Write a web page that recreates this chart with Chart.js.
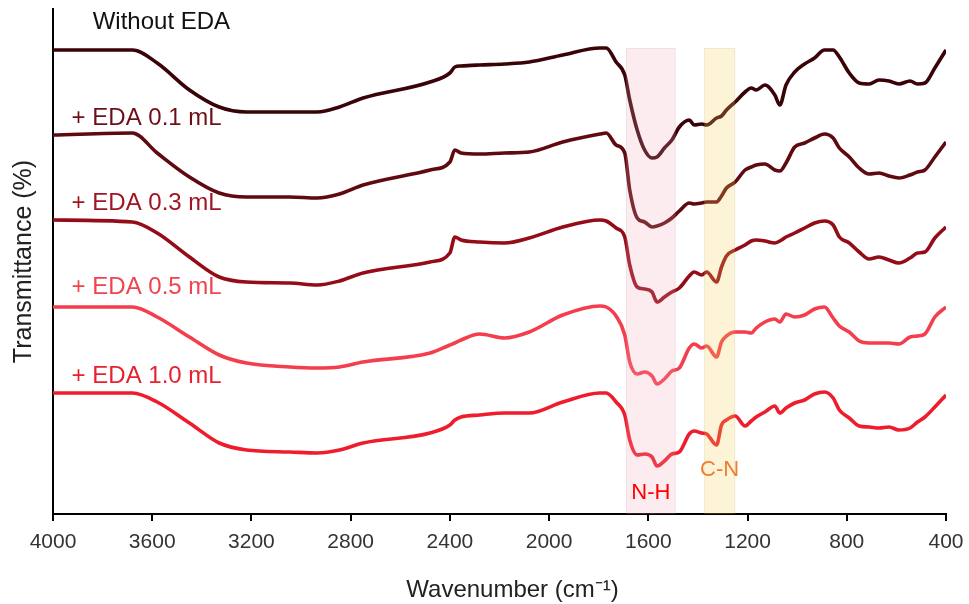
<!DOCTYPE html>
<html>
<head>
<meta charset="utf-8">
<script src="https://cdn.jsdelivr.net/npm/chart.js@4.4.1/dist/chart.umd.min.js"></script>
<style>
  html, body { margin: 0; padding: 0; background: #fff; }
  #wrap { width: 969px; height: 604px; }
</style>
</head>
<body>
<div id="wrap"><canvas id="ftir"></canvas></div>
<script>
// wavenumber grid (cm-1)
var wavenumbers = [4000, 3680, 3580, 3450, 3330, 3220, 3045, 2935, 2845, 2750,
  2480, 2400, 2380, 2355, 2280, 2180, 2080, 1945, 1795, 1770,
  1730, 1695, 1675, 1645, 1615, 1585, 1565, 1535, 1505, 1475,
  1435, 1415, 1385, 1365, 1325, 1305, 1285, 1250, 1210, 1185,
  1165, 1130, 1090, 1070, 1045, 1010, 970, 930, 890, 855,
  830, 790, 750, 710, 670, 630, 590, 545, 515, 485,
  445, 400];

// transmittance (offset spectra)
var tWithout = [92.8, 92.8, 90.2, 84.8, 81.4, 80.4, 80.4, 80.4, 81.4, 83.2,
  86.4, 88.2, 89.4, 89.6, 89.8, 90.0, 90.4, 91.8, 93.2, 93.2,
  90.4, 87.8, 82.8, 76.8, 72.8, 71.2, 71.4, 73.2, 74.8, 77.4,
  78.8, 77.8, 78.0, 77.8, 79.2, 79.6, 80.8, 82.4, 84.4, 85.2,
  84.8, 85.8, 83.8, 81.8, 85.8, 88.4, 90.0, 91.2, 92.8, 92.8,
  91.4, 88.2, 86.2, 86.0, 86.8, 86.6, 86.0, 86.6, 86.0, 86.2,
  89.2, 92.8];
var tEda01 = [75.8, 76.2, 72.2, 67.4, 64.2, 63.4, 63.4, 63.2, 64.0, 65.8,
  68.8, 70.4, 72.8, 72.2, 72.0, 72.2, 72.4, 74.4, 76.0, 76.2,
  73.8, 72.2, 64.8, 59.2, 58.4, 57.4, 57.6, 58.2, 59.2, 60.6,
  62.2, 62.0, 62.2, 62.4, 62.4, 63.6, 65.2, 66.4, 68.8, 69.4,
  69.8, 70.0, 68.8, 68.6, 70.2, 73.4, 74.2, 75.2, 76.0, 75.2,
  73.2, 71.4, 69.2, 68.0, 68.2, 67.6, 67.2, 67.8, 68.4, 68.8,
  71.4, 74.4];
var tEda03 = [58.8, 58.4, 56.2, 51.4, 47.4, 46.4, 46.2, 45.8, 46.6, 48.2,
  50.4, 52.2, 55.4, 54.8, 54.4, 54.2, 55.2, 57.4, 58.8, 58.6,
  57.2, 55.4, 49.8, 45.4, 45.0, 44.4, 42.4, 43.4, 44.4, 45.2,
  47.6, 48.4, 47.8, 48.4, 46.4, 49.4, 51.6, 52.8, 53.8, 54.6,
  54.8, 54.6, 54.2, 54.6, 55.4, 56.2, 57.2, 58.2, 58.6, 57.8,
  55.4, 54.2, 52.4, 51.0, 51.4, 50.8, 50.2, 51.2, 52.2, 52.4,
  55.2, 57.4];
var tEda05 = [41.4, 41.4, 39.4, 35.4, 31.8, 30.2, 29.4, 29.2, 29.4, 30.4,
  32.2, 33.8, 34.2, 34.8, 36.0, 35.2, 36.4, 39.8, 41.6, 41.4,
  39.6, 35.8, 30.4, 28.0, 28.4, 27.6, 26.0, 27.0, 28.6, 29.2,
  33.2, 34.0, 33.2, 33.6, 31.4, 34.4, 35.6, 36.4, 36.4, 36.2,
  37.2, 38.4, 39.0, 38.4, 40.0, 39.4, 39.8, 41.0, 41.4, 39.2,
  37.6, 36.4, 34.6, 34.2, 34.2, 34.2, 34.0, 35.4, 35.6, 36.0,
  39.4, 41.4];
var tEda10 = [24.2, 24.2, 22.4, 18.2, 14.2, 12.8, 12.4, 12.2, 12.8, 14.2,
  16.2, 17.8, 18.8, 19.4, 19.8, 20.2, 20.2, 22.4, 24.2, 24.2,
  22.4, 19.8, 14.8, 11.8, 12.0, 11.4, 9.6, 10.6, 12.0, 12.4,
  16.0, 16.6, 16.2, 16.0, 13.8, 17.8, 18.8, 19.6, 17.6, 18.6,
  19.4, 20.4, 21.6, 20.2, 21.2, 22.2, 22.8, 24.0, 24.4, 23.2,
  20.8, 19.2, 17.6, 17.4, 17.2, 17.4, 16.8, 17.2, 18.4, 19.4,
  21.4, 23.8];

var seriesLabels = ['Without EDA', '+ EDA 0.1 mL', '+ EDA 0.3 mL', '+ EDA 0.5 mL', '+ EDA 1.0 mL'];

// highlighted absorption bands (cm-1)
var bandNames = ['N-H', 'C-N'];
var bandFrom = [1690, 1375];
var bandTo = [1490, 1250];

var lineColors = ['#3a0308', '#5e0a10', '#930c18', '#f43e4d', '#ee1c2c'];
var labelColors = ['#111111', '#6e0f17', '#a01523', '#f0434f', '#e8202f'];
var FONT = '"Liberation Sans", Arial, sans-serif';

function pts(vals) {
  return wavenumbers.map(function (w, i) { return { x: w, y: vals[i] }; });
}

var allSeries = [tWithout, tEda01, tEda03, tEda05, tEda10];
var datasets = allSeries.map(function (vals, i) {
  return {
    label: seriesLabels[i],
    data: pts(vals),
    borderColor: lineColors[i],
    backgroundColor: lineColors[i],
    borderWidth: 3.6,
    pointRadius: 0,
    cubicInterpolationMode: 'monotone',
    fill: false
  };
});

var annotations = {
  id: 'annotations',
  afterDatasetsDraw: function (chart) {
    var ctx = chart.ctx;
    var xs = chart.scales.x, ys = chart.scales.y;
    var fills = ['rgba(240,170,180,0.22)', 'rgba(247,203,83,0.24)'];
    var txt = ['#ff0000', '#ed7d31'];
    var txtY = [4.2, 8.8];
    var top = ys.getPixelForValue(93.2);
    ctx.save();
    for (var i = 0; i < bandNames.length; i++) {
      var x1 = xs.getPixelForValue(bandFrom[i]);
      var x2 = xs.getPixelForValue(bandTo[i]);
      ctx.fillStyle = fills[i];
      ctx.fillRect(x1, top, x2 - x1, ys.bottom - top);
      ctx.strokeStyle = 'rgba(0,0,0,0.05)';
      ctx.lineWidth = 1;
      ctx.strokeRect(x1 + 0.5, top + 0.5, x2 - x1 - 1, ys.bottom - top - 1);
      ctx.fillStyle = txt[i];
      ctx.font = '22px ' + FONT;
      ctx.textAlign = 'center';
      ctx.textBaseline = 'middle';
      ctx.fillText(bandNames[i], (x1 + x2) / 2, ys.getPixelForValue(txtY[i]));
    }
    // series names above each trace
    var lx = [3840, 3925, 3925, 3925, 3925];
    var ly = [98.4, 79.2, 62.2, 45.4, 27.6];
    ctx.font = '24px ' + FONT;
    ctx.textAlign = 'left';
    for (var j = 0; j < seriesLabels.length; j++) {
      ctx.fillStyle = labelColors[j];
      ctx.fillText(seriesLabels[j], xs.getPixelForValue(lx[j]), ys.getPixelForValue(ly[j]));
    }
    // x axis title, a little right of centre as in the original
    ctx.fillStyle = '#222222';
    ctx.textAlign = 'center';
    ctx.fillText('Wavenumber (cm\u207B\u00B9)', (xs.left + xs.right) / 2 + 13, 590);
    ctx.restore();
  }
};

new Chart(document.getElementById('ftir'), {
  type: 'line',
  data: { datasets: datasets },
  options: {
    responsive: true,
    maintainAspectRatio: false,
    animation: false,
    devicePixelRatio: 1,
    layout: { padding: { top: 9, right: 23, left: 0, bottom: 0 } },
    plugins: { legend: { display: false }, tooltip: { enabled: false } },
    scales: {
      x: {
        type: 'linear',
        reverse: true,
        min: 400,
        max: 4000,
        afterFit: function (s) {
          s.height = 90;
          // don't let the end labels push the plot inwards
          s.paddingLeft = 0;
          s.paddingRight = 0;
        },
        ticks: {
          stepSize: 400,
          padding: 9,
          color: '#333333',
          font: { family: FONT, size: 21 },
          callback: function (v) { return String(v); }
        },
        grid: { drawOnChartArea: false, drawTicks: true, tickLength: 7, color: '#000', lineWidth: 2 },
        border: { display: true, color: '#000', width: 2 }
      },
      y: {
        min: 0,
        max: 101,
        afterFit: function (s) { s.width = 53; },
        ticks: { display: false },
        grid: { display: false },
        border: { display: true, color: '#000', width: 2 },
        title: {
          display: true,
          text: 'Transmittance (%)',
          color: '#222222',
          font: { family: FONT, size: 25 },
          padding: { top: 9, bottom: 0 }
        }
      }
    }
  },
  plugins: [annotations]
});
</script>
</body>
</html>
